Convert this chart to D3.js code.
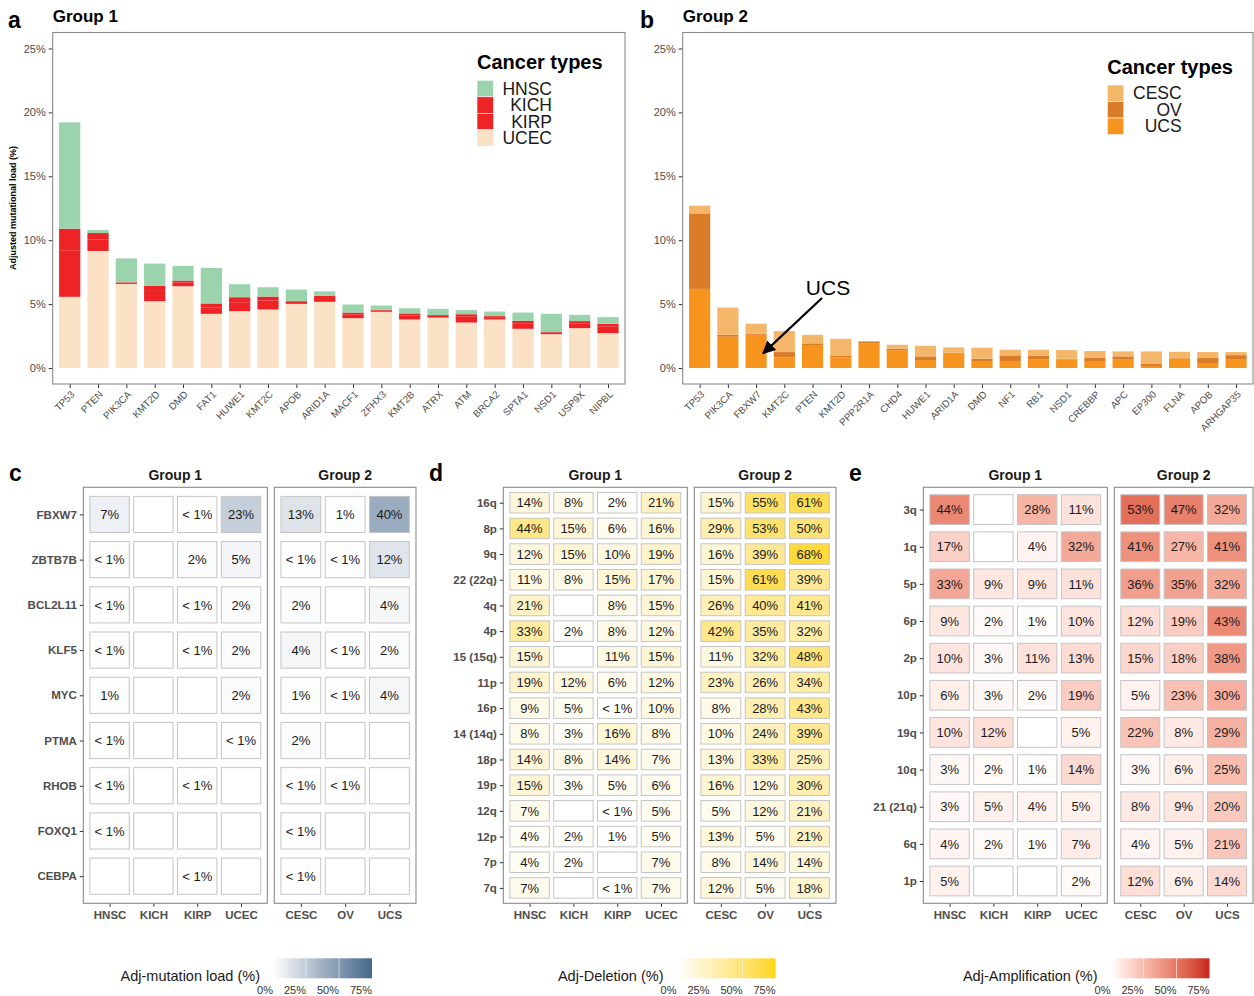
<!DOCTYPE html>
<html>
<head>
<meta charset="utf-8">
<script src="https://cdn.jsdelivr.net/npm/d3@7"></script>
<style>
  body { margin: 0; background: #fff; }
  svg { display: block; font-family: "Liberation Sans", Arial, sans-serif; }
</style>
</head>
<body>
<svg id="fig" width="1254" height="996"></svg>
<script>
// ---- panel a : group 1 mutational load (stacked, %)
const group1Genes = ["TP53","PTEN","PIK3CA","KMT2D","DMD","FAT1","HUWE1","KMT2C","APOB","ARID1A",
  "MACF1","ZFHX3","KMT2B","ATRX","ATM","BRCA2","SPTA1","NSD1","USP9X","NIPBL"];
const g1Ucec = [5.57, 9.16, 6.58, 5.23, 6.40, 4.24, 4.45, 4.58, 5.02, 5.18, 3.90, 4.40, 3.80, 3.95, 3.56, 3.80, 3.07, 2.65, 3.12, 2.73];
const g1Kirp = [3.60, 0.90, 0.10, 0.80, 0.30, 0.50, 0.70, 0.70, 0.15, 0.30, 0.30, 0.10, 0.30, 0.12, 0.45, 0.18, 0.40, 0.10, 0.35, 0.50];
const g1Kich = [1.73, 0.50, 0.03, 0.40, 0.14, 0.31, 0.39, 0.31, 0.06, 0.17, 0.14, 0.05, 0.17, 0.07, 0.20, 0.08, 0.22, 0.06, 0.20, 0.23];
const g1Hnsc = [8.32, 0.24, 1.87, 1.74, 1.15, 2.78, 1.02, 0.73, 0.91, 0.35, 0.63, 0.34, 0.41, 0.49, 0.32, 0.36, 0.65, 1.43, 0.49, 0.52];

// ---- panel b : group 2 mutational load (stacked, %)
const group2Genes = ["TP53","PIK3CA","FBXW7","KMT2C","PTEN","KMT2D","PPP2R1A","CHD4","HUWE1","ARID1A",
  "DMD","NF1","RB1","NSD1","CREBBP","APC","EP300","FLNA","APOB","ARHGAP35"];
const g2Ucs  = [6.19, 2.45, 2.60, 0.83, 1.80, 0.83, 1.95, 1.40, 0.62, 1.17, 0.49, 0.49, 0.70, 0.68, 0.49, 0.70, 0.16, 0.75, 0.39, 0.70];
const g2Ov   = [5.91, 0.15, 0.07, 0.42, 0.13, 0.11, 0.13, 0.11, 0.29, 0.03, 0.24, 0.50, 0.24, 0.05, 0.29, 0.21, 0.15, 0.03, 0.39, 0.31];
const g2Cesc = [0.60, 2.13, 0.80, 1.64, 0.67, 1.35, 0.02, 0.31, 0.83, 0.41, 0.86, 0.44, 0.49, 0.67, 0.55, 0.39, 0.99, 0.49, 0.47, 0.24];

const barTicks = [0, 5, 10, 15, 20, 25];

// ---- heatmaps (null = no value, 0.5 = "< 1%")
const cancers1 = ["HNSC", "KICH", "KIRP", "UCEC"];
const cancers2 = ["CESC", "OV", "UCS"];

const mutGenes = ["FBXW7","ZBTB7B","BCL2L11","KLF5","MYC","PTMA","RHOB","FOXQ1","CEBPA"];
const mutValues = [
  [7, null, 0.5, 23, 13, 1, 40],
  [0.5, null, 2, 5, 0.5, 0.5, 12],
  [0.5, null, 0.5, 2, 2, null, 4],
  [0.5, null, 0.5, 2, 4, 0.5, 2],
  [1, null, null, 2, 1, 0.5, 4],
  [0.5, null, null, 0.5, 2, null, null],
  [0.5, null, 0.5, null, 0.5, 0.5, null],
  [0.5, null, null, null, 0.5, null, null],
  [null, null, 0.5, null, 0.5, null, null]
];

const delArms = ["16q","8p","9q","22 (22q)","4q","4p","15 (15q)","11p","16p","14 (14q)","18p","19p","12q","12p","7p","7q"];
const delValues = [
  [14, 8, 2, 21, 15, 55, 61],
  [44, 15, 6, 16, 29, 53, 50],
  [12, 15, 10, 19, 16, 39, 68],
  [11, 8, 15, 17, 15, 61, 39],
  [21, null, 8, 15, 26, 40, 41],
  [33, 2, 8, 12, 42, 35, 32],
  [15, null, 11, 15, 11, 32, 48],
  [19, 12, 6, 12, 23, 26, 34],
  [9, 5, 0.5, 10, 8, 28, 43],
  [8, 3, 16, 8, 10, 24, 39],
  [14, 8, 14, 7, 13, 33, 25],
  [15, 3, 5, 6, 16, 12, 30],
  [7, null, 0.5, 5, 5, 12, 21],
  [4, 2, 1, 5, 13, 5, 21],
  [4, 2, null, 7, 8, 14, 14],
  [7, null, 0.5, 7, 12, 5, 18]
];

const ampArms = ["3q","1q","5p","6p","2p","10p","19q","10q","21 (21q)","6q","1p"];
const ampValues = [
  [44, null, 28, 11, 53, 47, 32],
  [17, null, 4, 32, 41, 27, 41],
  [33, 9, 9, 11, 36, 35, 32],
  [9, 2, 1, 10, 12, 19, 43],
  [10, 3, 11, 13, 15, 18, 38],
  [6, 3, 2, 19, 5, 23, 30],
  [10, 12, null, 5, 22, 8, 29],
  [3, 2, 1, 14, 3, 6, 25],
  [3, 5, 4, 5, 8, 9, 20],
  [4, 2, 1, 7, 4, 5, 21],
  [5, null, null, 2, 12, 6, 14]
];

const legendTicks = [0, 25, 50, 75];

const svg = d3.select("#fig");
const axisGrey = "#4d4d4d";
const boxGrey = "#8a8a8a";

// arrow marker for the UCS annotation
svg.append("defs").append("marker")
  .attr("id", "arrowhead")
  .attr("viewBox", "0 0 10 10")
  .attr("refX", 9).attr("refY", 5)
  .attr("markerWidth", 6).attr("markerHeight", 6)
  .attr("markerUnits", "strokeWidth")
  .attr("orient", "auto")
  .append("path").attr("d", "M0,0 L10,5 L0,10 z").attr("fill", "#000");

function barPanel({ left, right, letter, letterX, title, genes, keys, series, colors, legend }) {
  const top = 32.5, bottom = 384;
  const g = svg.append("g");

  const x = d3.scalePoint().domain(genes).range([left, right]).padding(0.6);
  const y = d3.scaleLinear().domain([-1.25, 26.25]).range([bottom, top]);
  const bw = x.step() * 0.75;

  const rows = genes.map((gene, i) => {
    const r = { gene };
    keys.forEach(k => r[k] = series[k][i]);
    return r;
  });
  const stacked = d3.stack().keys(keys)(rows);

  g.selectAll(".layer")
    .data(stacked)
    .join("g")
    .attr("fill", d => colors[d.key])
    .selectAll("rect")
    .data(d => d)
    .join("rect")
    .attr("x", d => x(d.data.gene) - bw / 2)
    .attr("width", bw)
    .attr("y", d => y(d[1]))
    .attr("height", d => y(d[0]) - y(d[1]));

  // y axis
  const ya = g.append("g")
    .attr("transform", `translate(${left},0)`)
    .call(d3.axisLeft(y).tickValues(barTicks).tickFormat(d => d + "%").tickSize(4).tickPadding(3));
  ya.select(".domain").remove();
  ya.selectAll("line").attr("stroke", "#333");
  ya.selectAll("text").attr("fill", axisGrey).attr("font-size", 11).attr("font-family", null);

  // x axis
  const xa = g.append("g")
    .attr("transform", `translate(0,${bottom})`)
    .call(d3.axisBottom(x).tickSize(4));
  xa.select(".domain").remove();
  xa.selectAll("line").attr("stroke", "#333");
  xa.selectAll("text")
    .attr("fill", axisGrey).attr("font-size", 9.8).attr("font-family", null)
    .attr("x", 0).attr("y", 0).attr("dy", 0)
    .attr("text-anchor", "end")
    .attr("transform", "translate(5,11) rotate(-45)");

  // panel border
  g.append("rect")
    .attr("x", left).attr("y", top)
    .attr("width", right - left).attr("height", bottom - top)
    .attr("fill", "none").attr("stroke", boxGrey).attr("stroke-width", 1.1);

  g.append("text").attr("x", letterX).attr("y", 28)
    .attr("font-size", 23).attr("font-weight", "bold").text(letter);
  g.append("text").attr("x", left).attr("y", 22)
    .attr("font-size", 17).attr("font-weight", "bold").text(title);

  // legend
  const lg = g.append("g");
  lg.append("text").attr("x", legend.x).attr("y", legend.titleY)
    .attr("font-size", 20).attr("font-weight", "bold").text("Cancer types");
  const order = keys.slice().reverse();
  const kh = 16.5;
  order.forEach((k, i) => {
    lg.append("rect")
      .attr("x", legend.x).attr("y", legend.keyY + i * kh)
      .attr("width", 16.5).attr("height", kh)
      .attr("fill", colors[k]).attr("stroke", "#fff").attr("stroke-width", 0.6);
    lg.append("text")
      .attr("x", legend.labelX).attr("y", legend.keyY + i * kh + kh / 2)
      .attr("dy", "0.35em").attr("text-anchor", "end")
      .attr("font-size", 17.5).attr("fill", "#1a1a1a")
      .text(legend.labels[k]);
  });

  return { x, y, g };
}

// panel a
barPanel({
  left: 52.7, right: 625, letter: "a", letterX: 8, title: "Group 1",
  genes: group1Genes,
  keys: ["UCEC", "KIRP", "KICH", "HNSC"],
  series: { UCEC: g1Ucec, KIRP: g1Kirp, KICH: g1Kich, HNSC: g1Hnsc },
  colors: { UCEC: "#fbe2c6", KIRP: "#ee2325", KICH: "#ee2325", HNSC: "#9bd3ad" },
  legend: { x: 477, titleY: 69, keyY: 80.3, labelX: 552,
    labels: { HNSC: "HNSC", KICH: "KICH", KIRP: "KIRP", UCEC: "UCEC" } }
});

svg.append("text")
  .attr("transform", "translate(16,208) rotate(-90)")
  .attr("text-anchor", "middle")
  .attr("font-size", 9).attr("font-weight", "bold")
  .text("Adjusted mutational load (%)");

// panel b
const pb = barPanel({
  left: 682.7, right: 1253, letter: "b", letterX: 640, title: "Group 2",
  genes: group2Genes,
  keys: ["UCS", "OV", "CESC"],
  series: { UCS: g2Ucs, OV: g2Ov, CESC: g2Cesc },
  colors: { UCS: "#f7941e", OV: "#d97b27", CESC: "#f4b76a" },
  legend: { x: 1107.3, titleY: 74, keyY: 85, labelX: 1181.7,
    labels: { CESC: "CESC", OV: "OV", UCS: "UCS" } }
});

// UCS annotation pointing at the FBXW7 bar
pb.g.append("text").attr("x", 828).attr("y", 295)
  .attr("text-anchor", "middle").attr("font-size", 21).text("UCS");
pb.g.append("line")
  .attr("x1", 822).attr("y1", 298)
  .attr("x2", pb.x("FBXW7") + 7).attr("y2", pb.y(1.15))
  .attr("stroke", "#000").attr("stroke-width", 2.2)
  .attr("marker-end", "url(#arrowhead)");

// ---- heatmap panels
function cellLabel(v) {
  if (v == null) return "";
  if (v < 1) return "< 1%";
  return v + "%";
}

function heatPanel({ ox, letter, rows, values, color, box2Right }) {
  const top = 487.3, bottom = 903.3;
  const g = svg.append("g");
  const y = d3.scalePoint().domain(rows).range([top, bottom]).padding(0.6);
  const ch = y.step() * 0.8;

  const boxes = [
    { title: "Group 1", cols: cancers1, l: ox + 83.3, r: ox + 267.3, offset: 0 },
    { title: "Group 2", cols: cancers2, l: ox + 274.3, r: box2Right, offset: 4 }
  ];

  boxes.forEach(b => {
    const x = d3.scalePoint().domain(b.cols).range([b.l, b.r]).padding(0.6);
    const cw = x.step() * 0.9;
    const cells = [];
    rows.forEach((row, i) => b.cols.forEach((c, j) => cells.push({ row, c, v: values[i][j + b.offset] })));

    g.append("g").selectAll("rect")
      .data(cells)
      .join("rect")
      .attr("x", d => x(d.c) - cw / 2)
      .attr("y", d => y(d.row) - ch / 2)
      .attr("width", cw).attr("height", ch)
      .attr("fill", d => d.v == null ? "#fff" : color(d.v))
      .attr("stroke", "#c4c4c4").attr("stroke-width", 1);

    g.append("g").selectAll("text")
      .data(cells.filter(d => d.v != null))
      .join("text")
      .attr("x", d => x(d.c)).attr("y", d => y(d.row))
      .attr("dy", "0.36em").attr("text-anchor", "middle")
      .attr("font-size", 13).attr("fill", "#1a1a1a")
      .text(d => cellLabel(d.v));

    const xa = g.append("g")
      .attr("transform", `translate(0,${bottom})`)
      .call(d3.axisBottom(x).tickSize(3.5).tickPadding(4));
    xa.select(".domain").remove();
    xa.selectAll("line").attr("stroke", "#333");
    xa.selectAll("text").attr("fill", axisGrey).attr("font-size", 11.5)
      .attr("font-weight", "bold").attr("font-family", null);

    g.append("rect")
      .attr("x", b.l).attr("y", top).attr("width", b.r - b.l).attr("height", bottom - top)
      .attr("fill", "none").attr("stroke", boxGrey).attr("stroke-width", 1.1);

    g.append("text").attr("x", (b.l + b.r) / 2).attr("y", 480)
      .attr("text-anchor", "middle").attr("font-size", 14).attr("font-weight", "bold")
      .attr("fill", "#1a1a1a").text(b.title);
  });

  const ya = g.append("g")
    .attr("transform", `translate(${ox + 83.3},0)`)
    .call(d3.axisLeft(y).tickSize(3.5).tickPadding(3));
  ya.select(".domain").remove();
  ya.selectAll("line").attr("stroke", "#333");
  ya.selectAll("text").attr("fill", axisGrey).attr("font-size", 11.5)
    .attr("font-weight", "bold").attr("font-family", null);

  g.append("text").attr("x", ox + 9).attr("y", 481)
    .attr("font-size", 23).attr("font-weight", "bold").text(letter);
}

const mutColor = d3.scaleLinear().domain([0, 75]).range(["#ffffff", "#44698a"])
  .interpolate(d3.interpolateLab).clamp(true);
const delColor = d3.scaleLinear().domain([0, 75]).range(["#ffffff", "#fdd60a"])
  .interpolate(d3.interpolateLab).clamp(true);
const ampColor = d3.scaleLinear().domain([0, 75]).range(["#ffffff", "#c8231e"])
  .interpolate(d3.interpolateLab).clamp(true);

heatPanel({ ox: 0, letter: "c", rows: mutGenes, values: mutValues, color: mutColor, box2Right: 416 });
heatPanel({ ox: 420, letter: "d", rows: delArms, values: delValues, color: delColor, box2Right: 836 });
heatPanel({ ox: 840, letter: "e", rows: ampArms, values: ampValues, color: ampColor, box2Right: 1253 });

// ---- colour bar legends
function colorLegend({ id, title, x0, color }) {
  const x = d3.scaleLinear().domain([0, 75]).range([x0, x0 + 99]);
  const grad = svg.select("defs").append("linearGradient").attr("id", id);
  d3.range(0, 76, 5).forEach(v => grad.append("stop")
    .attr("offset", (v / 75 * 100) + "%").attr("stop-color", color(v)));
  const g = svg.append("g");
  g.append("rect").attr("x", x0).attr("y", 958.3).attr("width", 99).attr("height", 20)
    .attr("fill", `url(#${id})`);
  legendTicks.slice(1, 3).forEach(v => g.append("line")
    .attr("x1", x(v)).attr("x2", x(v)).attr("y1", 958.3).attr("y2", 978.3)
    .attr("stroke", "#fff").attr("stroke-opacity", 0.7).attr("stroke-width", 0.8));
  g.selectAll(".tl").data(legendTicks).join("text")
    .attr("x", d => x(d)).attr("y", 994)
    .attr("text-anchor", "end").attr("font-size", 11).attr("fill", "#333")
    .text(d => d + "%");
  g.append("text").attr("x", x0 - 13).attr("y", 981)
    .attr("text-anchor", "end").attr("font-size", 14.5).attr("fill", "#1a1a1a").text(title);
}

colorLegend({ id: "gMut", title: "Adj-mutation load (%)", x0: 273, color: mutColor });
colorLegend({ id: "gDel", title: "Adj-Deletion (%)", x0: 676.5, color: delColor });
colorLegend({ id: "gAmp", title: "Adj-Amplification (%)", x0: 1110.5, color: ampColor });
</script>
</body>
</html>
